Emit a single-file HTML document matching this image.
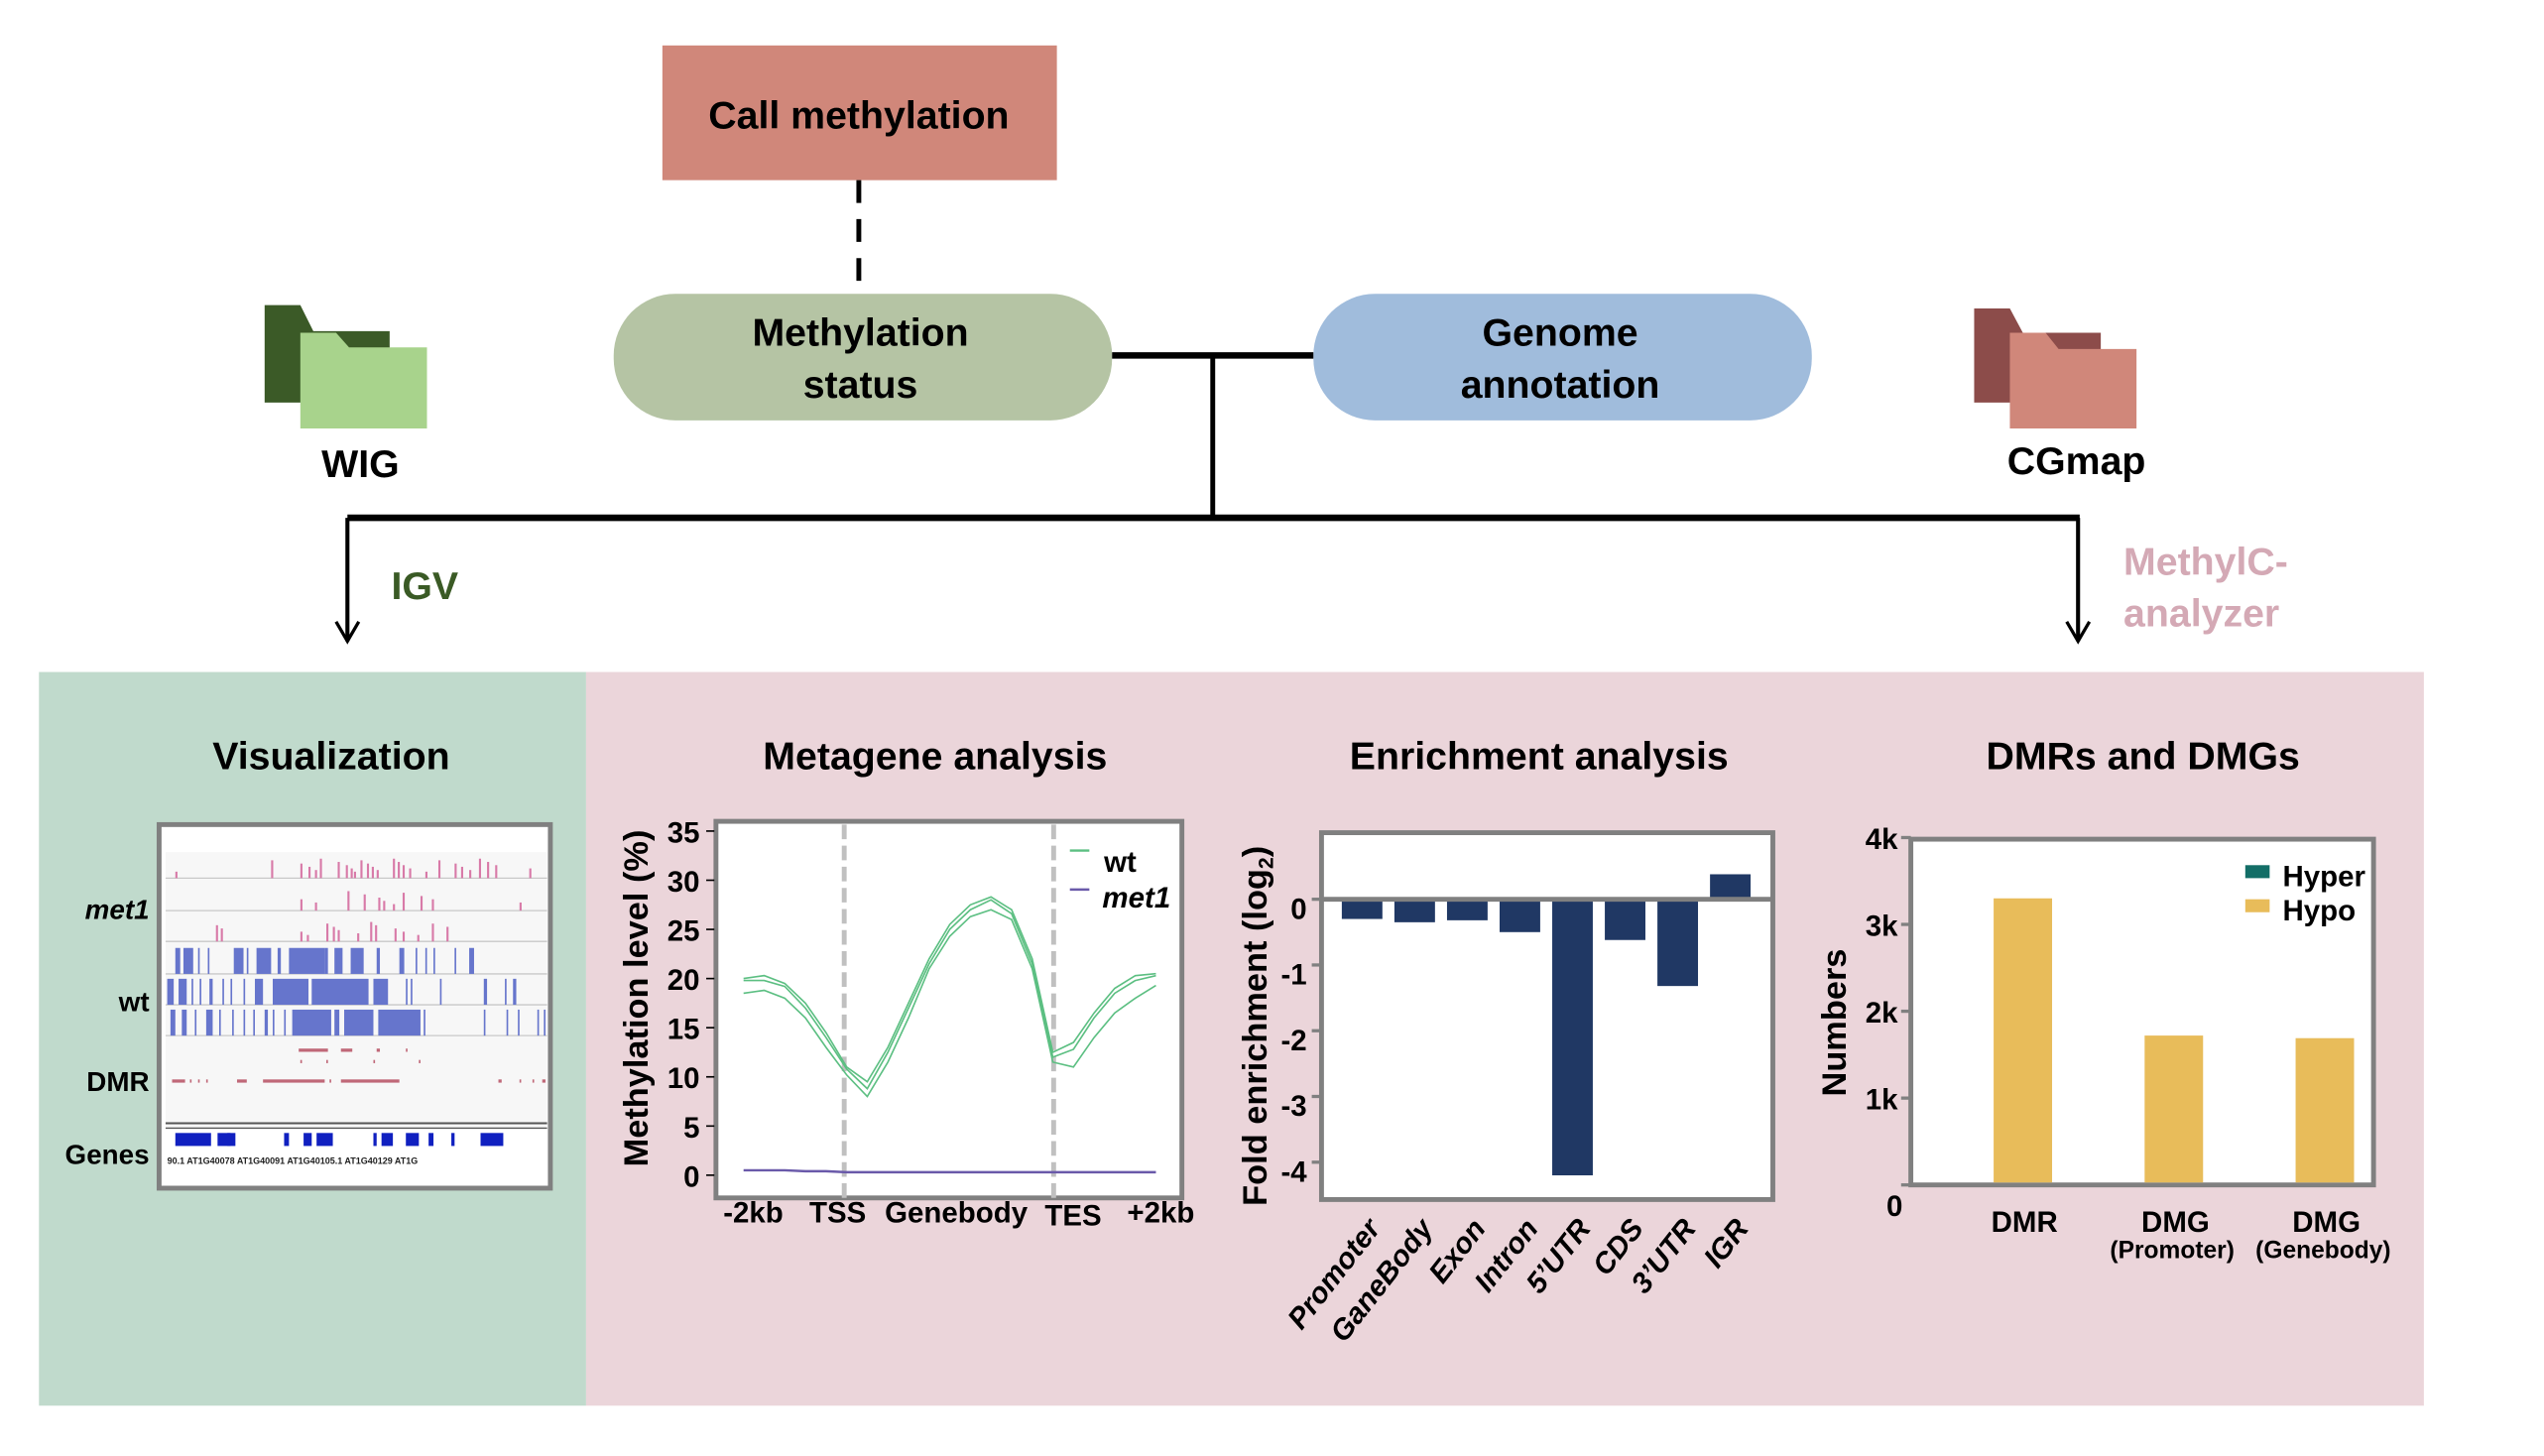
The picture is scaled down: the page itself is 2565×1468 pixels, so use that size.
<!DOCTYPE html>
<html><head><meta charset="utf-8"><style>
html,body{margin:0;padding:0;background:#fff}
svg{display:block}
text{font-family:"Liberation Sans",sans-serif;font-weight:bold}
</style></head><body>
<svg id="root" width="2565" height="1468" viewBox="0 0 1567 897" preserveAspectRatio="none" xmlns="http://www.w3.org/2000/svg">
<rect width="1567" height="897" fill="#fff"/>
<rect x="408" y="28" width="243" height="83" fill="#d0877a"/>
<text x="529" y="79" font-size="24" text-anchor="middle">Call methylation</text>
<line x1="529" y1="111" x2="529" y2="176" stroke="#000" stroke-width="3" stroke-dasharray="14,10"/>
<rect x="378" y="181" width="307" height="78" rx="38" fill="#b5c4a4"/>
<text x="530" y="213" font-size="24" text-anchor="middle"><tspan x="530">Methylation</tspan><tspan x="530" dy="32">status</tspan></text>
<rect x="809" y="181" width="307" height="78" rx="38" fill="#a0bcdc"/>
<text x="961" y="213" font-size="24" text-anchor="middle"><tspan x="961">Genome</tspan><tspan x="961" dy="32">annotation</tspan></text>
<g stroke="#000" fill="none">
<line x1="685" y1="219" x2="809" y2="219" stroke-width="4"/>
<line x1="747" y1="219" x2="747" y2="320" stroke-width="3"/>
<line x1="214" y1="319" x2="1281" y2="319" stroke-width="4"/>
<line x1="214" y1="319" x2="214" y2="395" stroke-width="2.5"/>
<line x1="1280" y1="319" x2="1280" y2="395" stroke-width="2.5"/>
<polyline points="207,383 214,395 221,383" stroke-width="2"/>
<polyline points="1273,383 1280,395 1287,383" stroke-width="2"/>
</g>
<text x="241" y="369" font-size="24" fill="#3a5a25">IGV</text>
<text x="1308" y="354" font-size="24" fill="#d4a9b5"><tspan x="1308">MethylC-</tspan><tspan x="1308" dy="32">analyzer</tspan></text>
<g>
<path d="M163 188 h22 l8 16 h47 v44 h-77 z" fill="#3b5a27"/>
<path d="M185 205 h22 l8 9 h48 v50 h-78 z" fill="#a8d38c"/>
</g>
<text x="222" y="294" font-size="24" text-anchor="middle">WIG</text>
<g>
<path d="M1216 190 h22 l8 15 h48 v43 h-78 z" fill="#8c4c4a"/>
<path d="M1238 205 h22 l8 10 h48 v49 h-78 z" fill="#d0877a"/>
</g>
<text x="1279" y="292" font-size="24" text-anchor="middle">CGmap</text>
<rect x="24" y="414" width="337" height="452" fill="#c0dacc"/>
<rect x="361" y="414" width="1132" height="452" fill="#ebd5da"/>
<text x="204" y="474" font-size="24" text-anchor="middle">Visualization</text>
<text x="576" y="474" font-size="24" text-anchor="middle">Metagene analysis</text>
<text x="948" y="474" font-size="24" text-anchor="middle">Enrichment analysis</text>
<text x="1320" y="474" font-size="24" text-anchor="middle">DMRs and DMGs</text>
<g id="igv">
<rect x="98" y="508" width="241" height="224" fill="#fff" stroke="#808080" stroke-width="3"/>
<rect x="102" y="525" width="235" height="170" fill="#f7f7f7"/>
</g>
<text x="92" y="566" font-size="17" text-anchor="end" font-style="italic">met1</text>
<text x="92" y="623" font-size="17" text-anchor="end">wt</text>
<text x="92" y="672" font-size="17" text-anchor="end">DMR</text>
<text x="92" y="717" font-size="17" text-anchor="end">Genes</text>
<g id="meta"></g>
<g id="enr"></g>
<g id="dmr"></g>
</svg>
<script>
const NS="http://www.w3.org/2000/svg";
function mk(parent,tag,attrs,txt){const e=document.createElementNS(NS,tag);for(const k in attrs)e.setAttribute(k,attrs[k]);if(txt!==undefined)e.textContent=txt;parent.appendChild(e);return e;}

// ---------- IGV snapshot (decorative) ----------
const igv=document.getElementById('igv');
const pinkRows=[[108,167,185,190,194,197,208,213,216,218,222,226,229,232,242,245,248,252,262,270,280,284,289,295,300,305,326],[185,194,214,224,233,236,242,248,259,266,320],[133,136,185,189,201,205,208,220,228,231,243,248,257,266,275]];
const pinkBase=[541,561,580];
pinkRows.forEach((r,i)=>{
  mk(igv,'line',{x1:102,x2:337,y1:pinkBase[i],y2:pinkBase[i],stroke:'#c8c8c8','stroke-width':0.8});
  r.forEach((x,j)=>{const h=4+((j*7+i*3)%9);
    const b=mk(igv,'rect',{x:x,y:pinkBase[i]-h,width:1.3,height:h,fill:'#d87aa8'});
    
    });
});
const blueRows=[[[108,3],[113,6],[122,1],[128,1],[144,6],[152,1],[158,9],[171,2],[178,22],[200,2],[206,5],[216,8],[232,2],[246,3],[256,1],[262,1],[267,1],[280,1],[289,3]],
[[103,4],[110,5],[118,1],[123,1],[129,2],[137,1],[142,1],[150,1],[157,5],[168,22],[192,35],[230,9],[250,1],[253,1],[271,1],[298,2],[311,1],[316,2]],
[[105,3],[112,3],[120,1],[127,4],[135,1],[143,1],[150,1],[156,1],[163,2],[168,1],[175,1],[180,24],[206,3],[212,18],[233,26],[261,1],[298,1],[312,1],[319,1],[331,1],[335,1]]];
const blueBase=[600,619,638];
blueRows.forEach((r,i)=>{
  mk(igv,'line',{x1:102,x2:337,y1:blueBase[i],y2:blueBase[i],stroke:'#c8c8c8','stroke-width':0.8});
  r.forEach(s=>{const b=mk(igv,'rect',{x:s[0],y:blueBase[i]-16,width:s[1],height:16,fill:'#6675cc'});
    
    });
});
[[184,202],[210,217],[232,234],[250,251]].forEach(s=>mk(igv,'rect',{x:s[0],y:646,width:s[1]-s[0],height:2,fill:'#c06878'}));
[[185,186],[201,202],[230,231],[258,259]].forEach(s=>mk(igv,'rect',{x:s[0],y:653,width:s[1]-s[0],height:2,fill:'#c06878'}));
[[106,114],[117,118],[122,123],[127,128],[146,152],[162,200],[203,204],[210,246],[307,309],[320,321],[328,329],[334,336]].forEach(s=>mk(igv,'rect',{x:s[0],y:665,width:s[1]-s[0],height:2,fill:'#c06878'}));
mk(igv,'line',{x1:102,x2:337,y1:692,y2:692,stroke:'#555','stroke-width':1.2});
mk(igv,'line',{x1:102,x2:337,y1:695,y2:695,stroke:'#555','stroke-width':0.8});
[[108,22],[134,8],[140,5],[175,3],[187,5],[195,10],[230,2],[235,7],[250,8],[264,3],[278,2],[296,14]].forEach(s=>mk(igv,'rect',{x:s[0],y:698,width:s[1],height:8,fill:'#1020c0'}));
mk(igv,'text',{x:103,y:717,'font-size':5.5,'font-weight':'normal',fill:'#222'},'90.1    AT1G40078    AT1G40091          AT1G40105.1    AT1G40129          AT1G');

// ---------- Metagene chart ----------
const metaY=[0,5,10,15,20,25,30,35];
const metaX=['-2kb','TSS','Genebody','TES','+2kb'];
const wtRep1=[20,20.3,19.5,17.5,14.5,11,9.5,13,17.5,22,25.5,27.5,28.3,27,22,12.5,13.5,16.5,19,20.3,20.5];
const wtRep2=[19.8,19.8,19.2,17,14,10.8,8.8,12.5,17,21.5,25,27,28,26.6,21.5,12,12.8,16,18.5,19.8,20.3];
const wtRep3=[18.5,18.8,18,16,13,10.2,8,11.5,16,21,24.3,26.3,27,26,21,11.5,11,14,16.5,18,19.3];
const met1Vals=[0.5,0.5,0.5,0.4,0.4,0.3,0.3,0.3,0.3,0.3,0.3,0.3,0.3,0.3,0.3,0.3,0.3,0.3,0.3,0.3,0.3];
const meta=document.getElementById('meta');
const mX0=441,mX1=728,mYt=506,mYb=738;
const my=v=>724-(v/35)*212;
const mx=i=>458+i*(712-458)/(wtRep1.length-1);
let r=mk(meta,'rect',{x:mX0,y:mYt,width:mX1-mX0,height:mYb-mYt,fill:'#fff',stroke:'#808080','stroke-width':3});


metaY.forEach(v=>{mk(meta,'line',{x1:435,x2:440,y1:my(v),y2:my(v),stroke:'#000','stroke-width':1});
  const t=mk(meta,'text',{x:431,y:my(v)+7,'font-size':18,'text-anchor':'end'},String(v));
  
  });
const mxPos=[464,516,589,661,715];
metaX.forEach((s,i)=>{const t=mk(meta,'text',{x:mxPos[i],y:i==3?755:753,'font-size':18,'text-anchor':'middle'},s);
  
  });
[520,649].forEach(x=>{const l=mk(meta,'line',{x1:x,x2:x,y1:508,y2:738,stroke:'#c0c0c0','stroke-width':3,'stroke-dasharray':'9,4'});
  
  });
[wtRep1,wtRep2,wtRep3].forEach(arr=>{
  const p=mk(meta,'polyline',{points:arr.map((v,i)=>mx(i)+','+my(v)).join(' '),fill:'none',stroke:'#5cbf82','stroke-width':1});
  
  });
let pm=mk(meta,'polyline',{points:met1Vals.map((v,i)=>mx(i)+','+my(v)).join(' '),fill:'none',stroke:'#6a5aaa','stroke-width':1.5});


mk(meta,'line',{x1:659,x2:671,y1:524,y2:524,stroke:'#5cbf82','stroke-width':1.5});
mk(meta,'line',{x1:659,x2:671,y1:548,y2:548,stroke:'#6a5aaa','stroke-width':1.5});
let lt=mk(meta,'text',{x:680,y:537,'font-size':18},'wt');


lt=mk(meta,'text',{x:679,y:559,'font-size':18,'font-style':'italic'},'met1');


lt=mk(meta,'text',{x:0,y:0,'font-size':21,'text-anchor':'middle',transform:'translate(399,615) rotate(-90)'},'Methylation level (%)');



// ---------- Enrichment chart ----------
const enrCats=['Promoter','GaneBody','Exon','Intron','5\u2019UTR','CDS','3\u2019UTR','IGR'];
const enrVals=[-0.3,-0.35,-0.32,-0.5,-4.2,-0.62,-1.32,0.38];
const enrTicks=[0,-1,-2,-3,-4];
const enr=document.getElementById('enr');
const ey=v=>554-v*40.5;
const ex=i=>839+i*32.4;
r=mk(enr,'rect',{x:814,y:513,width:278,height:226,fill:'#fff',stroke:'#808080','stroke-width':3});


enrVals.forEach((v,i)=>{const y0=Math.min(ey(0),ey(v)),h=Math.abs(ey(v)-ey(0));
  const b=mk(enr,'rect',{x:ex(i)-12.5,y:y0,width:25,height:h,fill:'#203864'});
  
  });
mk(enr,'line',{x1:814,x2:1092,y1:ey(0),y2:ey(0),stroke:'#808080','stroke-width':3});
enrTicks.forEach(v=>{mk(enr,'line',{x1:808,x2:814,y1:ey(v),y2:ey(v),stroke:'#808080','stroke-width':2});
  const t=mk(enr,'text',{x:805,y:ey(v)+12,'font-size':18,'text-anchor':'end'},String(v));
  
  });
enrCats.forEach((c,i)=>{const t=mk(enr,'text',{x:0,y:0,'font-size':18,'font-style':'italic','text-anchor':'end',transform:`translate(${ex(i)+12},${757}) rotate(-52)`},c);
  
  });
lt=mk(enr,'text',{x:0,y:0,'font-size':21,'text-anchor':'middle',transform:'translate(780,632) rotate(-90)'});


lt.appendChild(document.createTextNode('Fold enrichment (log'));
mk(lt,'tspan',{'font-size':13,dy:4},'2');
mk(lt,'tspan',{dy:-4},')');

// ---------- DMR chart ----------
const dmrCats=['DMR','DMG','DMG'];
const dmrSub=['','(Promoter)','(Genebody)'];
const dmrHypo=[3300,1720,1690];
const dmrHyper=[0,0,0];
const dmrTicks=[1000,2000,3000,4000];
const dmrTickLabels=['1k','2k','3k','4k'];
const dmr=document.getElementById('dmr');
const dy=v=>730-v*0.0535;
const dx=i=>1246+i*93;
r=mk(dmr,'rect',{x:1177,y:517,width:285,height:213,fill:'#fff',stroke:'#808080','stroke-width':3});


dmrHypo.forEach((v,i)=>{const b=mk(dmr,'rect',{x:dx(i)-18,y:dy(v),width:36,height:730-dy(v)-1.5,fill:'#e8bc5a'});
  
  
  if(dmrHyper[i]>0){const h=mk(dmr,'rect',{x:dx(i)-18,y:dy(v+dmrHyper[i]),width:36,height:dy(v)-dy(v+dmrHyper[i]),fill:'#136e67'});
  
  }});
dmrTicks.forEach((v,i)=>{mk(dmr,'line',{x1:1171,x2:1177,y1:dy(v),y2:dy(v),stroke:'#808080','stroke-width':2});
  const t=mk(dmr,'text',{x:1169,y:dy(v)+7,'font-size':18,'text-anchor':'end'},dmrTickLabels[i]);
  
  });
mk(dmr,'line',{x1:1171,x2:1177,y1:730,y2:730,stroke:'#808080','stroke-width':2});
lt=mk(dmr,'text',{x:1167,y:749,'font-size':18,'text-anchor':'middle'},'0');


dmrCats.forEach((c,i)=>{const t=mk(dmr,'text',{x:dx(i)+1,y:759,'font-size':18,'text-anchor':'middle'},c);
  
  
  if(dmrSub[i]){const s=mk(dmr,'text',{x:dx(i)-1,y:775,'font-size':15,'text-anchor':'middle'},dmrSub[i]);
  
  }});
mk(dmr,'rect',{x:1383,y:533,width:15,height:8,fill:'#136e67'});
mk(dmr,'rect',{x:1383,y:554,width:15,height:8,fill:'#e8bc5a'});
lt=mk(dmr,'text',{x:1406,y:546,'font-size':18},'Hyper');


lt=mk(dmr,'text',{x:1406,y:567,'font-size':18},'Hypo');


lt=mk(dmr,'text',{x:0,y:0,'font-size':21,'text-anchor':'middle',transform:'translate(1137,630) rotate(-90)'},'Numbers');


</script>
</body></html>
